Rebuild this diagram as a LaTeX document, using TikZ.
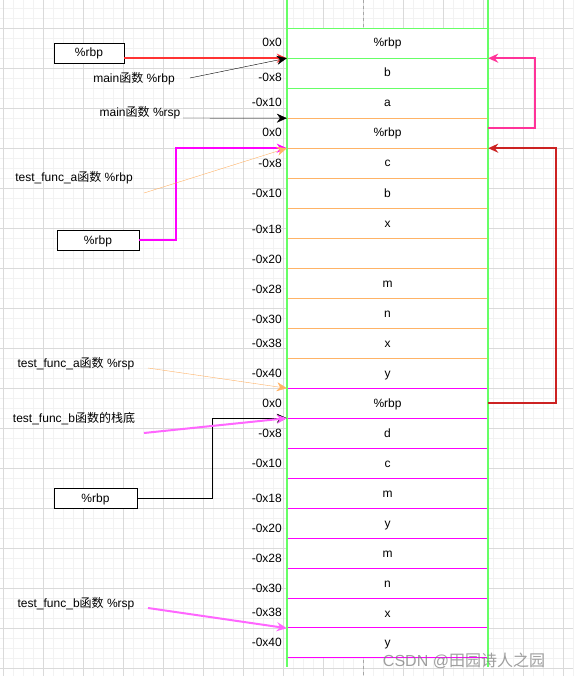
\documentclass[tikz,border=0pt]{standalone}
\usepackage{fontspec}
\setmainfont{Liberation Sans}
\newfontfamily\cjk{Noto Sans CJK SC}
\usetikzlibrary{arrows.meta}
\definecolor{gridmajor}{HTML}{DADADA}
\definecolor{gridminor}{HTML}{F2F2F2}
\definecolor{framegreen}{HTML}{66FF66}
\definecolor{frameorange}{HTML}{FFB366}
\definecolor{framemagenta}{HTML}{FF00FF}
\definecolor{ptrred}{HTML}{FF3333}
\definecolor{ptrpink}{HTML}{FF3399}
\definecolor{ptrdark}{HTML}{CC2222}
\definecolor{ptrlight}{HTML}{FF66FF}
\newcommand{\zh}[1]{{\cjk #1}}

\begin{document}
\begin{tikzpicture}[x=1pt,y=-1pt,
    every node/.style={font=\fontsize{12}{14}\selectfont,inner sep=0pt,
      text height=10pt,text depth=2pt},
    cellg/.style={draw=framegreen,fill=white,minimum width=201pt,minimum height=30pt},
    cello/.style={draw=frameorange,fill=white,minimum width=201pt,minimum height=30pt},
    cellm/.style={draw=framemagenta,fill=white,minimum width=201pt,minimum height=30pt},
    offset/.style={anchor=east},
    regbox/.style={draw,fill=white,minimum height=20pt},
    ptr/.style={-{Stealth[length=10pt,width=9pt]}}]
    \useasboundingbox (0,0) rectangle (573,676);
    \fill[white] (0,0) rectangle (573,676);

    % Background grid
    \begin{scope}[shift={(3,28)}]
      \draw[gridminor,step=10pt] (-3,-28) grid (570,648);
      \draw[gridmajor,step=40pt] (-3,-28) grid (570,648);
    \end{scope}
    \draw[dashed,gray!70] (363,0) -- (363,676);

    % Stack of main
    \node[cellg] (m1) at (387.5,43) {\%rbp};
    \node[cellg] (m2) at (387.5,73) {b};
    \node[cellg] (m3) at (387.5,103) {a};

    % Stack of test_func_a
    \node[cello] (a1) at (387.5,133) {\%rbp};
    \node[cello] (a2) at (387.5,163) {c};
    \node[cello] (a3) at (387.5,193) {b};
    \node[cello] (a4) at (387.5,223) {x};
    \node[cello] (a5) at (387.5,253) {};
    \node[cello] (a6) at (387.5,283) {m};
    \node[cello] (a7) at (387.5,313) {n};
    \node[cello] (a8) at (387.5,343) {x};
    \node[cello] (a9) at (387.5,373) {y};

    % Stack of test_func_b
    \node[cellm] (b1) at (387.5,403) {\%rbp};
    \node[cellm] (b2) at (387.5,433) {d};
    \node[cellm] (b3) at (387.5,463) {c};
    \node[cellm] (b4) at (387.5,493) {m};
    \node[cellm] (b5) at (387.5,523) {y};
    \node[cellm] (b6) at (387.5,553) {m};
    \node[cellm] (b7) at (387.5,583) {n};
    \node[cellm] (b8) at (387.5,613) {x};
    \node[cellm] (b9) at (387.5,642) {y};

    % Outer frame
    \draw[framegreen,line width=1.5pt] (287,0) -- (287,667);
    \draw[framegreen,line width=1.5pt] (488,0) -- (488,667);

    % Offsets from %rbp
    \node[offset] (om1) at (282,43) {0x0};
    \node[offset] (om2) at (282,78) {-0x8};
    \node[offset] (om3) at (282,103) {-0x10};
    \node[offset] (oa1) at (282,133) {0x0};
    \node[offset] (oa2) at (282,164) {-0x8};
    \node[offset] (oa3) at (282,193) {-0x10};
    \node[offset] (oa4) at (282,229) {-0x18};
    \node[offset] (oa5) at (282,259) {-0x20};
    \node[offset] (oa6) at (282,289) {-0x28};
    \node[offset] (oa7) at (282,319) {-0x30};
    \node[offset] (oa8) at (282,343) {-0x38};
    \node[offset] (oa9) at (282,373) {-0x40};
    \node[offset] (ob1) at (282,403) {0x0};
    \node[offset] (ob2) at (282,433) {-0x8};
    \node[offset] (ob3) at (282,463) {-0x10};
    \node[offset] (ob4) at (282,498) {-0x18};
    \node[offset] (ob5) at (282,528) {-0x20};
    \node[offset] (ob6) at (282,558) {-0x28};
    \node[offset] (ob7) at (282,588) {-0x30};
    \node[offset] (ob8) at (282,612) {-0x38};
    \node[offset] (ob9) at (282,642) {-0x40};

    % Register boxes
    \node[regbox,minimum width=70pt] (rbpMain) at (89,53) {\%rbp};
    \node[regbox,minimum width=82pt] (rbpFuncA) at (98,240) {\%rbp};
    \node[regbox,minimum width=83pt] (rbpFuncB) at (95.5,498) {\%rbp};

    % Labels on the left
    \node (mainRbpTxt) at (134,79) {main\zh{函数} \%rbp};
    \node (mainRspTxt) at (140,113) {main\zh{函数} \%rsp};
    \node (aRbpTxt) at (74,178) {test\_func\_a\zh{函数} \%rbp};
    \node (aRspTxt) at (76,363) {test\_func\_a\zh{函数} \%rsp};
    \node (bBaseTxt) at (74,418) {test\_func\_b\zh{函数的栈底}};
    \node (bRspTxt) at (76,603) {test\_func\_b\zh{函数} \%rsp};
    \coordinate (mainRbpTail) at (190,78);
    \coordinate (mainRspTail) at (183,118);
    \coordinate (aRbpTail) at (144,193);
    \coordinate (aRspTail) at (148,368);
    \coordinate (bBaseTail) at (144,433);
    \coordinate (bRspTail) at (148,608);

    % Register arrows
    \draw[ptr,ptrred,line width=2pt] (rbpMain.east |- m1.south west) -- (m1.south west);
    \draw[ptr,framemagenta,line width=2pt] (rbpFuncA.east) -- ++(37,0) |- (a1.south west);
    \draw[ptr] (rbpFuncB.east) -- ++(75,0) |- (b1.south west);

    % Label arrows
    \draw[ptr] (mainRbpTail) -- (m1.south west);
    \draw[ptr] (mainRspTail) -- (m3.south west);
    \draw[ptr,frameorange] (aRbpTail) -- (a1.south west);
    \draw[ptr,frameorange] (aRspTail) -- (a9.south west);
    \draw[ptr,ptrlight,line width=2pt] (bBaseTail) -- (b1.south west);
    \draw[ptr,ptrlight,line width=2pt] (bRspTail) -- (b8.south west);

    % Saved %rbp links
    \draw[ptr,ptrpink,line width=2pt] ([yshift=5pt]a1.east) -- ++(47,0) |- (m1.south east);
    \draw[ptr,ptrdark,line width=2pt] (b1.east) -- ++(68,0) |- (a1.south east);

    % Watermark
    \node[text=gray,opacity=0.75,font=\fontsize{16}{19}\selectfont] (mark) at (464,662)
      {CSDN @\zh{田园诗人之园}};
  \end{tikzpicture}
\end{document}
